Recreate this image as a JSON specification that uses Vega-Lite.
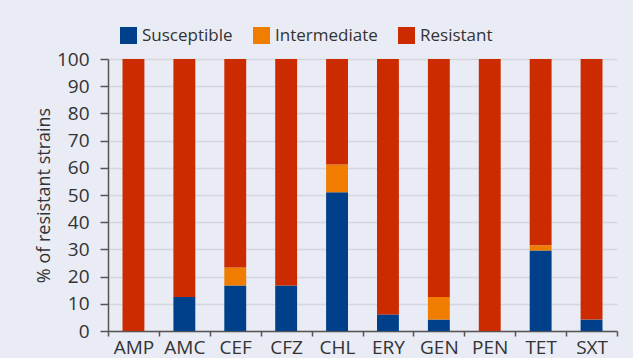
{
  "$schema": "https://vega.github.io/schema/vega-lite/v6.json",
  "width": 509,
  "height": 272,
  "autosize": {"type": "none"},
  "padding": {"left": 108, "top": 59, "right": 16, "bottom": 27},
  "background": "#e9ebf5",
  "config": {
    "font": "Open Sans",
    "view": {"stroke": null},
    "axis": {"labelFont": "Open Sans", "titleFont": "Open Sans", "labelColor": "#333333", "titleColor": "#333333"}
  },
  "data": {
    "values": [
      {"drug": "AMP", "status": "Susceptible", "order": 1, "pct": 0},
      {"drug": "AMP", "status": "Intermediate", "order": 2, "pct": 0},
      {"drug": "AMP", "status": "Resistant", "order": 3, "pct": 100},
      {"drug": "AMC", "status": "Susceptible", "order": 1, "pct": 12.5},
      {"drug": "AMC", "status": "Intermediate", "order": 2, "pct": 0},
      {"drug": "AMC", "status": "Resistant", "order": 3, "pct": 87.5},
      {"drug": "CEF", "status": "Susceptible", "order": 1, "pct": 16.7},
      {"drug": "CEF", "status": "Intermediate", "order": 2, "pct": 6.6},
      {"drug": "CEF", "status": "Resistant", "order": 3, "pct": 76.7},
      {"drug": "CFZ", "status": "Susceptible", "order": 1, "pct": 16.7},
      {"drug": "CFZ", "status": "Intermediate", "order": 2, "pct": 0},
      {"drug": "CFZ", "status": "Resistant", "order": 3, "pct": 83.3},
      {"drug": "CHL", "status": "Susceptible", "order": 1, "pct": 51},
      {"drug": "CHL", "status": "Intermediate", "order": 2, "pct": 10.2},
      {"drug": "CHL", "status": "Resistant", "order": 3, "pct": 38.8},
      {"drug": "ERY", "status": "Susceptible", "order": 1, "pct": 6.1},
      {"drug": "ERY", "status": "Intermediate", "order": 2, "pct": 0},
      {"drug": "ERY", "status": "Resistant", "order": 3, "pct": 93.9},
      {"drug": "GEN", "status": "Susceptible", "order": 1, "pct": 4.2},
      {"drug": "GEN", "status": "Intermediate", "order": 2, "pct": 8.3},
      {"drug": "GEN", "status": "Resistant", "order": 3, "pct": 87.5},
      {"drug": "PEN", "status": "Susceptible", "order": 1, "pct": 0},
      {"drug": "PEN", "status": "Intermediate", "order": 2, "pct": 0},
      {"drug": "PEN", "status": "Resistant", "order": 3, "pct": 100},
      {"drug": "TET", "status": "Susceptible", "order": 1, "pct": 29.6},
      {"drug": "TET", "status": "Intermediate", "order": 2, "pct": 1.9},
      {"drug": "TET", "status": "Resistant", "order": 3, "pct": 68.5},
      {"drug": "SXT", "status": "Susceptible", "order": 1, "pct": 4.2},
      {"drug": "SXT", "status": "Intermediate", "order": 2, "pct": 0},
      {"drug": "SXT", "status": "Resistant", "order": 3, "pct": 95.8}
    ]
  },
  "mark": {"type": "bar", "width": {"band": 0.43}},
  "encoding": {
    "x": {
      "field": "drug",
      "type": "nominal",
      "sort": null,
      "scale": {"paddingInner": 0, "paddingOuter": 0},
      "axis": {
        "title": null,
        "labelAngle": 0,
        "labelFontSize": 19,
        "labelPadding": 2,
        "tickBand": "extent",
        "tickSize": 5,
        "tickColor": "#555555",
        "domainColor": "#555555",
        "domainWidth": 1.5,
        "tickWidth": 1.5,
        "grid": false
      }
    },
    "y": {
      "field": "pct",
      "type": "quantitative",
      "stack": "zero",
      "scale": {"domain": [0, 100], "nice": false},
      "axis": {
        "title": "% of resistant strains",
        "titleFontSize": 18,
        "titleFontWeight": "normal",
        "titlePadding": 3,
        "labelFontSize": 19,
        "labelPadding": 11,
        "values": [0, 10, 20, 30, 40, 50, 60, 70, 80, 90, 100],
        "tickSize": 8,
        "tickColor": "#555555",
        "domainColor": "#555555",
        "domainWidth": 1.5,
        "tickWidth": 1.5,
        "gridColor": "#d6d7de",
        "gridWidth": 1.5
      }
    },
    "color": {
      "field": "status",
      "type": "nominal",
      "sort": ["Susceptible", "Intermediate", "Resistant"],
      "scale": {"domain": ["Susceptible", "Intermediate", "Resistant"], "range": ["#00408a", "#f07d00", "#cc2b00"]},
      "legend": {
        "title": null,
        "orient": "none",
        "legendX": 12,
        "legendY": -32,
        "direction": "horizontal",
        "symbolType": "square",
        "symbolSize": 289,
        "symbolStrokeWidth": 0,
        "labelFontSize": 17,
        "labelColor": "#333333",
        "labelOffset": 5,
        "columnPadding": 20
      }
    },
    "order": {"field": "order", "type": "quantitative"}
  }
}
